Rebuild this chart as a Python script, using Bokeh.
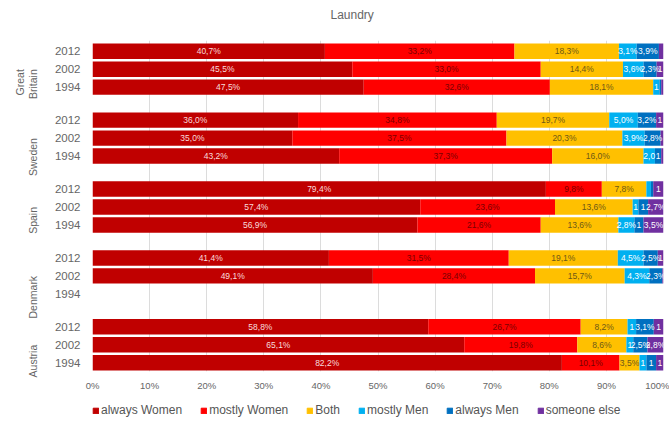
import math
from bokeh.plotting import figure
from bokeh.layouts import column
from bokeh.models import (ColumnDataSource, FixedTicker, LinearAxis, Legend,
                          LegendItem, Range1d, Title)
from bokeh.core.properties import value
from bokeh.embed import file_html
from bokeh.resources import INLINE

FONT = "Liberation Sans"

# --- data -------------------------------------------------------------
countries = ["Great Britain", "Sweden", "Spain", "Denmark", "Austria"]
# country names as printed beside each group; "Great Britain" is split over two lines
country_line2 = ["Britain", "Sweden", "Spain", "Denmark", "Austria"]
country_line1 = ["Great", "", "", "", ""]
years = ["2012", "2002", "1994"]

series = ["always Women", "mostly Women", "Both", "mostly Men", "always Men", "someone else"]
colors = ["#c00000", "#ff0000", "#ffc000", "#00b0f0", "#0070c0", "#7030a0"]
label_colors = ["#f8dcdc", "#7a0000", "#6e5817", "#ffffff", "#ffffff", "#ffffff"]

nan = float("nan")
# rows: for each country 2012, 2002, 1994 (Denmark 1994 missing)
always_women = [40.7, 45.5, 47.5, 36.0, 35.0, 43.2, 79.4, 57.4, 56.9, 41.4, 49.1, nan, 58.8, 65.1, 82.2]
mostly_women = [33.2, 33.0, 32.6, 34.8, 37.5, 37.3, 9.8, 23.6, 21.6, 31.5, 28.4, nan, 26.7, 19.8, 10.1]
both = [18.3, 14.4, 18.1, 19.7, 20.3, 16.0, 7.8, 13.6, 13.6, 19.1, 15.7, nan, 8.2, 8.6, 3.5]
mostly_men = [3.1, 3.6, 1.1, 5.0, 3.9, 2.0, 0.8, 1.0, 2.8, 4.5, 4.3, nan, 1.5, 1.2, 1.2]
always_men = [3.9, 2.3, 0.3, 3.2, 2.8, 1.1, 0.4, 1.7, 1.6, 2.5, 2.3, nan, 3.1, 2.5, 1.7]
someone_else = [0.8, 1.2, 0.4, 1.3, 0.5, 0.4, 1.8, 2.7, 3.5, 1.0, 0.2, nan, 1.7, 2.8, 1.3]

x_ticks = [0, 10, 20, 30, 40, 50, 60, 70, 80, 90, 100]

# --- layout of the rows -------------------------------------------------
GROUP_STEP = 3.84
row_y = [g * GROUP_STEP + k for g in range(len(countries)) for k in range(len(years))]
row_year = [yr for _ in countries for yr in years]
group_y = [g * GROUP_STEP + 1 for g in range(len(countries))]

cols = dict(zip(series, [always_women, mostly_women, both, mostly_men, always_men, someone_else]))
src = ColumnDataSource(dict(y=row_y, **cols))

p = figure(width=669, height=393, output_backend="svg", toolbar_location=None,
           x_range=Range1d(0, 100), y_range=Range1d(17.85, -0.6),
           min_border_left=92, min_border_right=6, min_border_top=40,
           min_border_bottom=15, title=None)
p.outline_line_color = None
p.background_fill_color = "white"

renderers = p.hbar_stack(series, y="y", height=0.86, color=colors, line_color=None,
                         source=src)

# --- value labels on each segment ----------------------------------------
PX_PER_PCT = 5.71
CHAR_W = {",": 2.5, "%": 8.0}


def text_width(s):
    return sum(CHAR_W.get(c, 5.0) for c in s)


lx, ly, lt, lc = [], [], [], []
for i, y in enumerate(row_y):
    left = 0.0
    for s, tc in zip(series, label_colors):
        v = cols[s][i]
        if v is None or math.isnan(v):
            continue
        txt = f"{v:.1f}%".replace(".", ",")
        seg_px = v * PX_PER_PCT
        if text_width(txt) > seg_px + 9:
            cut = txt
            while cut and text_width(cut) > seg_px + 2:
                cut = cut[:-1]
            txt = cut.rstrip(",")
        if txt and v >= 1.0:
            lx.append(left + v / 2)
            ly.append(y)
            lt.append(txt)
            lc.append(tc)
        left += v

lsrc = ColumnDataSource(dict(x=lx, y=ly, text=lt, color=lc))
p.text(x="x", y="y", text="text", text_color="color", source=lsrc, text_align="center",
       text_baseline="middle", text_font_size="8.5px", text_font=value(FONT))

# --- axes -----------------------------------------------------------------
p.xaxis.ticker = FixedTicker(ticks=x_ticks)
p.xaxis.major_label_overrides = {t: f"{t}%" for t in x_ticks}
p.xaxis.axis_line_color = None
p.xaxis.major_tick_line_color = None
p.xaxis.major_tick_out = 0
p.xaxis.minor_tick_line_color = None
p.xaxis.major_label_text_font_size = "9.5px"
p.xaxis.major_label_text_color = "#666666"
p.xaxis.major_label_text_font = FONT
p.xaxis.major_label_standoff = 8

p.xgrid.ticker = FixedTicker(ticks=x_ticks)
p.xgrid.grid_line_color = "#dcdcdc"
p.ygrid.grid_line_color = None

p.yaxis.ticker = FixedTicker(ticks=row_y)
p.yaxis.major_label_overrides = {y: yr for y, yr in zip(row_y, row_year)}
p.yaxis.axis_line_color = None
p.yaxis.major_tick_line_color = None
p.yaxis.major_tick_out = 0
p.yaxis.minor_tick_line_color = None
p.yaxis.major_label_text_font_size = "11.5px"
p.yaxis.major_label_text_color = "#666666"
p.yaxis.major_label_text_font = FONT
p.yaxis.major_label_standoff = 12


def country_axis(labels, standoff):
    ticks = [y for y, c in zip(group_y, labels) if c]
    return LinearAxis(ticker=FixedTicker(ticks=ticks),
                      major_label_overrides={y: c for y, c in zip(group_y, labels) if c},
                      major_label_orientation=math.pi / 2,
                      axis_line_color=None, major_tick_line_color=None,
                      major_tick_out=0,
                      minor_tick_line_color=None,
                      major_label_text_font_size="10.5px",
                      major_label_text_color="#666666",
                      major_label_text_font=FONT,
                      major_label_standoff=standoff)


p.add_layout(country_axis(country_line2, 18), "left")
p.add_layout(country_axis(country_line1, -2), "left")

# --- title: a thin empty spacer line lifts the heading above the bars -------
p.add_layout(Title(text=" ", text_font_size="2px"), "above")
p.add_layout(Title(text="Laundry", align="left", offset=238, text_font_size="12px",
                   text_font_style="normal", text_color="#666666", text_font=FONT),
             "above")

# --- legend strip under the chart -----------------------------------------
# swatch renderers sit outside the visible range; only their legend keys show
key = figure(width=669, height=30, output_backend="svg", toolbar_location=None,
             x_range=Range1d(0, 1), y_range=Range1d(0, 1), min_border=0)
key.axis.visible = False
key.grid.grid_line_color = None
key.outline_line_color = None
swatches = [key.hbar(y=[-5], left=[-5], right=[-4], height=0.5, color=c) for c in colors]

legend = Legend(items=[LegendItem(label=s, renderers=[r]) for s, r in zip(series, swatches)],
                orientation="horizontal", location=(0, 6),
                label_text_font_size="12px", label_text_color="#555555",
                label_text_font=FONT,
                glyph_width=7, glyph_height=7, label_standoff=2, spacing=18,
                padding=0, margin=0, border_line_color=None,
                background_fill_alpha=0)
key.add_layout(legend)

open("out.html", "w").write(file_html(column(p, key, spacing=0), INLINE))
